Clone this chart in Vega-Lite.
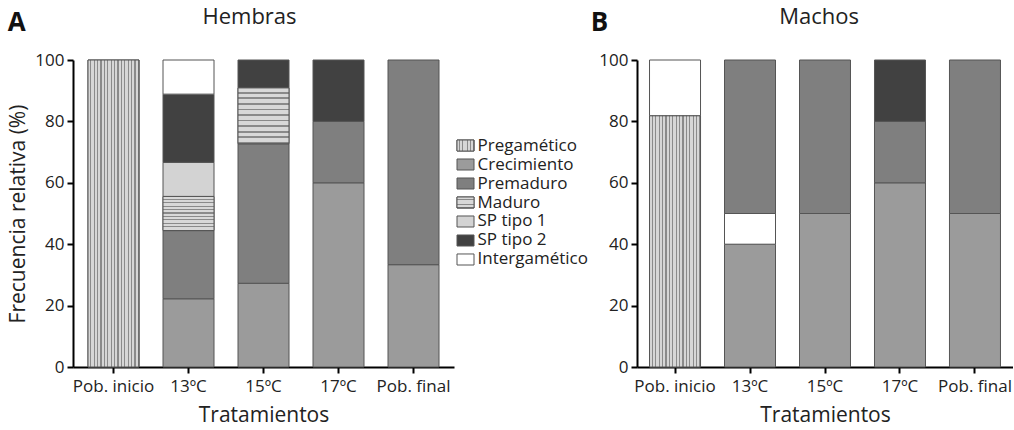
{
  "$schema": "https://vega.github.io/schema/vega-lite/v6.json",
  "background": "white",
  "padding": {"left": 7, "top": 6, "right": 0, "bottom": 2},
  "config": {
    "font": "Open Sans",
    "view": {"stroke": null},
    "axis": {
      "domainColor": "#000000", "domainWidth": 2, "tickColor": "#000000", "tickWidth": 2, "tickSize": 6,
      "labelColor": "#222222", "labelFontSize": 17, "labelPadding": 3,
      "titleColor": "#222222", "titleFontSize": 21, "titleFontWeight": "normal", "grid": false
    },
    "axisX": {"labelPadding": 5},
    "title": {"fontSize": 22, "fontWeight": "normal", "color": "#222222"},
    "range": {"category": ["#d6d6d6", "#9b9b9b", "#7f7f7f", "#d8d8d8", "#d3d3d3", "#414141", "#ffffff"]}
  },
  "datasets": {
    "hembras": [
      {"tratamiento": "Pob. inicio", "estadio": "Pregamético", "orden": 1, "frecuencia": 100},
      {"tratamiento": "13ºC", "estadio": "Crecimiento", "orden": 1, "frecuencia": 22.22},
      {"tratamiento": "13ºC", "estadio": "Premaduro", "orden": 2, "frecuencia": 22.22},
      {"tratamiento": "13ºC", "estadio": "Maduro", "orden": 3, "frecuencia": 11.11},
      {"tratamiento": "13ºC", "estadio": "SP tipo 1", "orden": 4, "frecuencia": 11.11},
      {"tratamiento": "13ºC", "estadio": "SP tipo 2", "orden": 5, "frecuencia": 22.22},
      {"tratamiento": "13ºC", "estadio": "Intergamético", "orden": 6, "frecuencia": 11.12},
      {"tratamiento": "15ºC", "estadio": "Crecimiento", "orden": 1, "frecuencia": 27.27},
      {"tratamiento": "15ºC", "estadio": "Premaduro", "orden": 2, "frecuencia": 45.45},
      {"tratamiento": "15ºC", "estadio": "Maduro", "orden": 3, "frecuencia": 18.18},
      {"tratamiento": "15ºC", "estadio": "SP tipo 2", "orden": 4, "frecuencia": 9.1},
      {"tratamiento": "17ºC", "estadio": "Crecimiento", "orden": 1, "frecuencia": 60},
      {"tratamiento": "17ºC", "estadio": "Premaduro", "orden": 2, "frecuencia": 20},
      {"tratamiento": "17ºC", "estadio": "SP tipo 2", "orden": 3, "frecuencia": 20},
      {"tratamiento": "Pob. final", "estadio": "Crecimiento", "orden": 1, "frecuencia": 33.33},
      {"tratamiento": "Pob. final", "estadio": "Premaduro", "orden": 2, "frecuencia": 66.67}
    ],
    "machos": [
      {"tratamiento": "Pob. inicio", "estadio": "Pregamético", "orden": 1, "frecuencia": 81.82},
      {"tratamiento": "Pob. inicio", "estadio": "Intergamético", "orden": 2, "frecuencia": 18.18},
      {"tratamiento": "13ºC", "estadio": "Crecimiento", "orden": 1, "frecuencia": 40},
      {"tratamiento": "13ºC", "estadio": "Intergamético", "orden": 2, "frecuencia": 10},
      {"tratamiento": "13ºC", "estadio": "Premaduro", "orden": 3, "frecuencia": 50},
      {"tratamiento": "15ºC", "estadio": "Crecimiento", "orden": 1, "frecuencia": 50},
      {"tratamiento": "15ºC", "estadio": "Premaduro", "orden": 2, "frecuencia": 50},
      {"tratamiento": "17ºC", "estadio": "Crecimiento", "orden": 1, "frecuencia": 60},
      {"tratamiento": "17ºC", "estadio": "Premaduro", "orden": 2, "frecuencia": 20},
      {"tratamiento": "17ºC", "estadio": "SP tipo 2", "orden": 3, "frecuencia": 20},
      {"tratamiento": "Pob. final", "estadio": "Crecimiento", "orden": 1, "frecuencia": 50},
      {"tratamiento": "Pob. final", "estadio": "Premaduro", "orden": 2, "frecuencia": 50}
    ],
    "leyenda": [
      {"estadio": "Pregamético"},
      {"estadio": "Crecimiento"},
      {"estadio": "Premaduro"},
      {"estadio": "Maduro"},
      {"estadio": "SP tipo 1"},
      {"estadio": "SP tipo 2"},
      {"estadio": "Intergamético"}
    ]
  },
  "resolve": {"scale": {"color": "independent"}, "legend": {"color": "independent"}},
  "spacing": 2,
  "hconcat": [
    {
      "title": {"text": "A", "anchor": "start", "fontSize": 26, "fontWeight": "bold", "color": "#111111", "offset": -30},
      "vconcat": [
        {
          "title": {"text": "Hembras", "offset": 22, "dx": -14},
          "width": 381,
          "height": 307,
          "data": {"name": "hembras"},
          "transform": [
            {"stack": "frecuencia", "groupby": ["tratamiento"], "sort": [{"field": "orden", "order": "ascending"}], "as": ["y0", "y1"]}
          ],
          "encoding": {
            "x": {"field": "tratamiento", "type": "nominal", "sort": ["Pob. inicio", "13ºC", "15ºC", "17ºC", "Pob. final"],
                  "scale": {"paddingInner": 0.32, "paddingOuter": 0.2},
                  "axis": {"title": "Tratamientos", "labelAngle": 0, "titlePadding": 10}},
            "y": {"field": "y0", "type": "quantitative",
                  "scale": {"domain": [0, 100], "nice": false},
                  "axis": {"title": "Frecuencia relativa (%)", "values": [0, 20, 40, 60, 80, 100], "titlePadding": 6}},
            "y2": {"field": "y1"}
          },
          "layer": [
            {
              "mark": {"type": "bar", "stroke": "#555555", "strokeWidth": 1},
              "encoding": {
                "color": {"field": "estadio", "type": "nominal",
                          "scale": {"domain": ["Pregamético", "Crecimiento", "Premaduro", "Maduro", "SP tipo 1", "SP tipo 2", "Intergamético"]},
                          "legend": null}
              }
            },
            {
              "transform": [{"filter": "datum.estadio === 'Pregamético'"}],
              "mark": {"type": "bar", "stroke": "#555555", "strokeWidth": 1,
                "fill": {"gradient": "linear", "x1": 0, "y1": 0, "x2": 1, "y2": 0, "stops": [
                  {"offset": 0, "color": "#d6d6d6"}, {"offset": 0.0447, "color": "#d6d6d6"}, {"offset": 0.0447, "color": "#8a8a8a"}, {"offset": 0.0667, "color": "#8a8a8a"},
                  {"offset": 0.0667, "color": "#d6d6d6"}, {"offset": 0.1113, "color": "#d6d6d6"}, {"offset": 0.1113, "color": "#8a8a8a"}, {"offset": 0.1333, "color": "#8a8a8a"},
                  {"offset": 0.1333, "color": "#d6d6d6"}, {"offset": 0.178, "color": "#d6d6d6"}, {"offset": 0.178, "color": "#8a8a8a"}, {"offset": 0.2, "color": "#8a8a8a"},
                  {"offset": 0.2, "color": "#d6d6d6"}, {"offset": 0.2447, "color": "#d6d6d6"}, {"offset": 0.2447, "color": "#8a8a8a"}, {"offset": 0.2667, "color": "#8a8a8a"},
                  {"offset": 0.2667, "color": "#d6d6d6"}, {"offset": 0.3113, "color": "#d6d6d6"}, {"offset": 0.3113, "color": "#8a8a8a"}, {"offset": 0.3333, "color": "#8a8a8a"},
                  {"offset": 0.3333, "color": "#d6d6d6"}, {"offset": 0.378, "color": "#d6d6d6"}, {"offset": 0.378, "color": "#8a8a8a"}, {"offset": 0.4, "color": "#8a8a8a"},
                  {"offset": 0.4, "color": "#d6d6d6"}, {"offset": 0.4447, "color": "#d6d6d6"}, {"offset": 0.4447, "color": "#8a8a8a"}, {"offset": 0.4667, "color": "#8a8a8a"},
                  {"offset": 0.4667, "color": "#d6d6d6"}, {"offset": 0.5113, "color": "#d6d6d6"}, {"offset": 0.5113, "color": "#8a8a8a"}, {"offset": 0.5333, "color": "#8a8a8a"},
                  {"offset": 0.5333, "color": "#d6d6d6"}, {"offset": 0.578, "color": "#d6d6d6"}, {"offset": 0.578, "color": "#8a8a8a"}, {"offset": 0.6, "color": "#8a8a8a"},
                  {"offset": 0.6, "color": "#d6d6d6"}, {"offset": 0.6447, "color": "#d6d6d6"}, {"offset": 0.6447, "color": "#8a8a8a"}, {"offset": 0.6667, "color": "#8a8a8a"},
                  {"offset": 0.6667, "color": "#d6d6d6"}, {"offset": 0.7113, "color": "#d6d6d6"}, {"offset": 0.7113, "color": "#8a8a8a"}, {"offset": 0.7333, "color": "#8a8a8a"},
                  {"offset": 0.7333, "color": "#d6d6d6"}, {"offset": 0.778, "color": "#d6d6d6"}, {"offset": 0.778, "color": "#8a8a8a"}, {"offset": 0.8, "color": "#8a8a8a"},
                  {"offset": 0.8, "color": "#d6d6d6"}, {"offset": 0.8447, "color": "#d6d6d6"}, {"offset": 0.8447, "color": "#8a8a8a"}, {"offset": 0.8667, "color": "#8a8a8a"},
                  {"offset": 0.8667, "color": "#d6d6d6"}, {"offset": 0.9113, "color": "#d6d6d6"}, {"offset": 0.9113, "color": "#8a8a8a"}, {"offset": 0.9333, "color": "#8a8a8a"},
                  {"offset": 0.9333, "color": "#d6d6d6"}, {"offset": 0.978, "color": "#d6d6d6"}, {"offset": 0.978, "color": "#8a8a8a"}, {"offset": 1, "color": "#8a8a8a"}
                ]}}
            },
            {
              "transform": [{"filter": "datum.estadio === 'Maduro'"}],
              "mark": {"type": "bar", "stroke": "#555555", "strokeWidth": 1,
                "fill": {"gradient": "linear", "x1": 0, "y1": 0, "x2": 0, "y2": 1, "stops": [
                  {"offset": 0, "color": "#d8d8d8"}, {"offset": 0.07, "color": "#d8d8d8"}, {"offset": 0.07, "color": "#8a8a8a"}, {"offset": 0.1, "color": "#8a8a8a"},
                  {"offset": 0.1, "color": "#d8d8d8"}, {"offset": 0.17, "color": "#d8d8d8"}, {"offset": 0.17, "color": "#8a8a8a"}, {"offset": 0.2, "color": "#8a8a8a"},
                  {"offset": 0.2, "color": "#d8d8d8"}, {"offset": 0.27, "color": "#d8d8d8"}, {"offset": 0.27, "color": "#8a8a8a"}, {"offset": 0.3, "color": "#8a8a8a"},
                  {"offset": 0.3, "color": "#d8d8d8"}, {"offset": 0.37, "color": "#d8d8d8"}, {"offset": 0.37, "color": "#8a8a8a"}, {"offset": 0.4, "color": "#8a8a8a"},
                  {"offset": 0.4, "color": "#d8d8d8"}, {"offset": 0.47, "color": "#d8d8d8"}, {"offset": 0.47, "color": "#8a8a8a"}, {"offset": 0.5, "color": "#8a8a8a"},
                  {"offset": 0.5, "color": "#d8d8d8"}, {"offset": 0.57, "color": "#d8d8d8"}, {"offset": 0.57, "color": "#8a8a8a"}, {"offset": 0.6, "color": "#8a8a8a"},
                  {"offset": 0.6, "color": "#d8d8d8"}, {"offset": 0.67, "color": "#d8d8d8"}, {"offset": 0.67, "color": "#8a8a8a"}, {"offset": 0.7, "color": "#8a8a8a"},
                  {"offset": 0.7, "color": "#d8d8d8"}, {"offset": 0.77, "color": "#d8d8d8"}, {"offset": 0.77, "color": "#8a8a8a"}, {"offset": 0.8, "color": "#8a8a8a"},
                  {"offset": 0.8, "color": "#d8d8d8"}, {"offset": 0.87, "color": "#d8d8d8"}, {"offset": 0.87, "color": "#8a8a8a"}, {"offset": 0.9, "color": "#8a8a8a"},
                  {"offset": 0.9, "color": "#d8d8d8"}, {"offset": 0.97, "color": "#d8d8d8"}, {"offset": 0.97, "color": "#8a8a8a"}, {"offset": 1, "color": "#8a8a8a"}
                ]}}
            }
          ]
        }
      ]
    },
    {
      "width": 17,
      "height": 300,
      "data": {"name": "leyenda"},
      "encoding": {
        "y": {"field": "estadio", "type": "nominal",
              "sort": ["Pregamético", "Crecimiento", "Premaduro", "Maduro", "SP tipo 1", "SP tipo 2", "Intergamético"],
              "scale": {"paddingInner": 0.42, "paddingOuter": 0, "range": [80, 205]},
              "axis": {"orient": "right", "title": null, "domain": false, "ticks": false, "labelPadding": 3, "labelFontSize": 17, "labelColor": "#222222"}},
        "x": {"datum": 1, "type": "quantitative", "scale": {"domain": [0, 1]}, "axis": null}
      },
      "layer": [
        {
          "mark": {"type": "bar", "stroke": "#555555", "strokeWidth": 1},
          "encoding": {
            "color": {"field": "estadio", "type": "nominal",
                      "scale": {"domain": ["Pregamético", "Crecimiento", "Premaduro", "Maduro", "SP tipo 1", "SP tipo 2", "Intergamético"]},
                      "legend": null}
          }
        },
        {
          "transform": [{"filter": "datum.estadio === 'Pregamético'"}],
          "mark": {"type": "bar", "stroke": "#555555", "strokeWidth": 1,
            "fill": {"gradient": "linear", "x1": 0, "y1": 0, "x2": 1, "y2": 0, "stops": [
              {"offset": 0, "color": "#d6d6d6"}, {"offset": 0.11, "color": "#d6d6d6"}, {"offset": 0.11, "color": "#8a8a8a"}, {"offset": 0.1667, "color": "#8a8a8a"},
              {"offset": 0.1667, "color": "#d6d6d6"}, {"offset": 0.2767, "color": "#d6d6d6"}, {"offset": 0.2767, "color": "#8a8a8a"}, {"offset": 0.3333, "color": "#8a8a8a"},
              {"offset": 0.3333, "color": "#d6d6d6"}, {"offset": 0.4433, "color": "#d6d6d6"}, {"offset": 0.4433, "color": "#8a8a8a"}, {"offset": 0.5, "color": "#8a8a8a"},
              {"offset": 0.5, "color": "#d6d6d6"}, {"offset": 0.61, "color": "#d6d6d6"}, {"offset": 0.61, "color": "#8a8a8a"}, {"offset": 0.6667, "color": "#8a8a8a"},
              {"offset": 0.6667, "color": "#d6d6d6"}, {"offset": 0.7767, "color": "#d6d6d6"}, {"offset": 0.7767, "color": "#8a8a8a"}, {"offset": 0.8333, "color": "#8a8a8a"},
              {"offset": 0.8333, "color": "#d6d6d6"}, {"offset": 0.9433, "color": "#d6d6d6"}, {"offset": 0.9433, "color": "#8a8a8a"}, {"offset": 1, "color": "#8a8a8a"}
            ]}}
        },
        {
          "transform": [{"filter": "datum.estadio === 'Maduro'"}],
          "mark": {"type": "bar", "stroke": "#555555", "strokeWidth": 1,
            "fill": {"gradient": "linear", "x1": 0, "y1": 0, "x2": 0, "y2": 1, "stops": [
              {"offset": 0, "color": "#d8d8d8"}, {"offset": 0.16, "color": "#d8d8d8"}, {"offset": 0.16, "color": "#8a8a8a"}, {"offset": 0.25, "color": "#8a8a8a"},
              {"offset": 0.25, "color": "#d8d8d8"}, {"offset": 0.41, "color": "#d8d8d8"}, {"offset": 0.41, "color": "#8a8a8a"}, {"offset": 0.5, "color": "#8a8a8a"},
              {"offset": 0.5, "color": "#d8d8d8"}, {"offset": 0.66, "color": "#d8d8d8"}, {"offset": 0.66, "color": "#8a8a8a"}, {"offset": 0.75, "color": "#8a8a8a"},
              {"offset": 0.75, "color": "#d8d8d8"}, {"offset": 0.91, "color": "#d8d8d8"}, {"offset": 0.91, "color": "#8a8a8a"}, {"offset": 1, "color": "#8a8a8a"}
            ]}}
        }
      ]
    },
    {
      "title": {"text": "B", "anchor": "start", "fontSize": 26, "fontWeight": "bold", "color": "#111111", "offset": -30, "dx": -8},
      "vconcat": [
        {
          "title": {"text": "Machos", "offset": 22, "dx": -6},
          "width": 376,
          "height": 307,
          "data": {"name": "machos"},
          "transform": [
            {"stack": "frecuencia", "groupby": ["tratamiento"], "sort": [{"field": "orden", "order": "ascending"}], "as": ["y0", "y1"]}
          ],
          "encoding": {
            "x": {"field": "tratamiento", "type": "nominal", "sort": ["Pob. inicio", "13ºC", "15ºC", "17ºC", "Pob. final"],
                  "scale": {"paddingInner": 0.32, "paddingOuter": 0.167},
                  "axis": {"title": "Tratamientos", "labelAngle": 0, "titlePadding": 10}},
            "y": {"field": "y0", "type": "quantitative",
                  "scale": {"domain": [0, 100], "nice": false},
                  "axis": {"title": null, "values": [0, 20, 40, 60, 80, 100]}},
            "y2": {"field": "y1"}
          },
          "layer": [
            {
              "mark": {"type": "bar", "stroke": "#555555", "strokeWidth": 1},
              "encoding": {
                "color": {"field": "estadio", "type": "nominal",
                          "scale": {"domain": ["Pregamético", "Crecimiento", "Premaduro", "Maduro", "SP tipo 1", "SP tipo 2", "Intergamético"]},
                          "legend": null}
              }
            },
            {
              "transform": [{"filter": "datum.estadio === 'Pregamético'"}],
              "mark": {"type": "bar", "stroke": "#555555", "strokeWidth": 1,
                "fill": {"gradient": "linear", "x1": 0, "y1": 0, "x2": 1, "y2": 0, "stops": [
                  {"offset": 0, "color": "#d6d6d6"}, {"offset": 0.0447, "color": "#d6d6d6"}, {"offset": 0.0447, "color": "#8a8a8a"}, {"offset": 0.0667, "color": "#8a8a8a"},
                  {"offset": 0.0667, "color": "#d6d6d6"}, {"offset": 0.1113, "color": "#d6d6d6"}, {"offset": 0.1113, "color": "#8a8a8a"}, {"offset": 0.1333, "color": "#8a8a8a"},
                  {"offset": 0.1333, "color": "#d6d6d6"}, {"offset": 0.178, "color": "#d6d6d6"}, {"offset": 0.178, "color": "#8a8a8a"}, {"offset": 0.2, "color": "#8a8a8a"},
                  {"offset": 0.2, "color": "#d6d6d6"}, {"offset": 0.2447, "color": "#d6d6d6"}, {"offset": 0.2447, "color": "#8a8a8a"}, {"offset": 0.2667, "color": "#8a8a8a"},
                  {"offset": 0.2667, "color": "#d6d6d6"}, {"offset": 0.3113, "color": "#d6d6d6"}, {"offset": 0.3113, "color": "#8a8a8a"}, {"offset": 0.3333, "color": "#8a8a8a"},
                  {"offset": 0.3333, "color": "#d6d6d6"}, {"offset": 0.378, "color": "#d6d6d6"}, {"offset": 0.378, "color": "#8a8a8a"}, {"offset": 0.4, "color": "#8a8a8a"},
                  {"offset": 0.4, "color": "#d6d6d6"}, {"offset": 0.4447, "color": "#d6d6d6"}, {"offset": 0.4447, "color": "#8a8a8a"}, {"offset": 0.4667, "color": "#8a8a8a"},
                  {"offset": 0.4667, "color": "#d6d6d6"}, {"offset": 0.5113, "color": "#d6d6d6"}, {"offset": 0.5113, "color": "#8a8a8a"}, {"offset": 0.5333, "color": "#8a8a8a"},
                  {"offset": 0.5333, "color": "#d6d6d6"}, {"offset": 0.578, "color": "#d6d6d6"}, {"offset": 0.578, "color": "#8a8a8a"}, {"offset": 0.6, "color": "#8a8a8a"},
                  {"offset": 0.6, "color": "#d6d6d6"}, {"offset": 0.6447, "color": "#d6d6d6"}, {"offset": 0.6447, "color": "#8a8a8a"}, {"offset": 0.6667, "color": "#8a8a8a"},
                  {"offset": 0.6667, "color": "#d6d6d6"}, {"offset": 0.7113, "color": "#d6d6d6"}, {"offset": 0.7113, "color": "#8a8a8a"}, {"offset": 0.7333, "color": "#8a8a8a"},
                  {"offset": 0.7333, "color": "#d6d6d6"}, {"offset": 0.778, "color": "#d6d6d6"}, {"offset": 0.778, "color": "#8a8a8a"}, {"offset": 0.8, "color": "#8a8a8a"},
                  {"offset": 0.8, "color": "#d6d6d6"}, {"offset": 0.8447, "color": "#d6d6d6"}, {"offset": 0.8447, "color": "#8a8a8a"}, {"offset": 0.8667, "color": "#8a8a8a"},
                  {"offset": 0.8667, "color": "#d6d6d6"}, {"offset": 0.9113, "color": "#d6d6d6"}, {"offset": 0.9113, "color": "#8a8a8a"}, {"offset": 0.9333, "color": "#8a8a8a"},
                  {"offset": 0.9333, "color": "#d6d6d6"}, {"offset": 0.978, "color": "#d6d6d6"}, {"offset": 0.978, "color": "#8a8a8a"}, {"offset": 1, "color": "#8a8a8a"}
                ]}}
            }
          ]
        }
      ]
    }
  ]
}
